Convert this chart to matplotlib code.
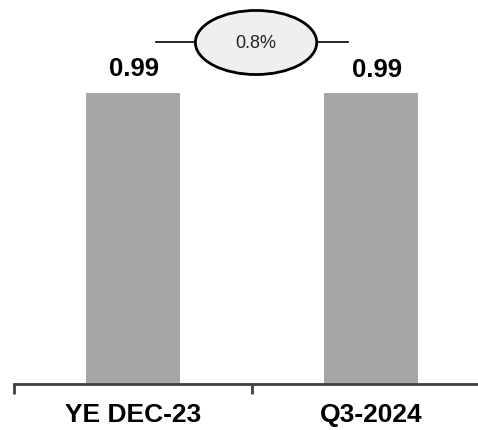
import matplotlib.pyplot as plt
from matplotlib.patches import Ellipse

categories = ['YE DEC-23', 'Q3-2024']
values = [0.99, 0.99]
change_pct = 0.8

plt.rcParams['font.family'] = ['Liberation Sans', 'DejaVu Sans']

fig = plt.figure(figsize=(4.78, 4.31), dpi=100)
ax = fig.add_axes([14 / 478, 46 / 431, 476 / 478, 385 / 431])

x = list(range(len(categories)))
ax.bar(x, values, width=0.395, color='#a6a6a6')
label_shift = [(1, 13), (4, 12)]
for xi, v, dxy in zip(x, values, label_shift):
    ax.annotate(f'{v:.2f}', (xi, v), xytext=dxy, textcoords='offset points',
                ha='center', va='baseline', fontsize=18.5, fontweight='bold')

ax.set_xlim(-0.5, 1.5)
ax.set_ylim(0, 1.31)

# change bubble between the two bars
cx, cy = 0.517, 1.162
ax.plot([cx - 0.42, cx - 0.255], [cy, cy], color='black', lw=1.2)
ax.plot([cx + 0.255, cx + 0.385], [cy, cy], color='black', lw=1.2)
ax.add_patch(Ellipse((cx, cy), 0.51, 0.218, facecolor='#efefef', edgecolor='black', lw=2, zorder=3))
ax.text(cx, cy, f'{change_pct}%', ha='center', va='center', fontsize=13, color='#222222', zorder=4)

for s in ['top', 'right', 'left']:
    ax.spines[s].set_visible(False)
ax.spines['bottom'].set_color('#404040')
ax.spines['bottom'].set_linewidth(2)
ax.set_yticks([])
ax.set_xticks([-0.5, 0.5, 1.5])
ax.set_xticklabels([])
ax.tick_params(axis='x', which='major', length=7, width=2, color='#404040')
ax.set_xticks(x, minor=True)
ax.set_xticklabels(categories, minor=True, fontsize=19, fontweight='bold')
ax.tick_params(axis='x', which='minor', length=0, pad=13)

fig.savefig('out.png', dpi=100)
